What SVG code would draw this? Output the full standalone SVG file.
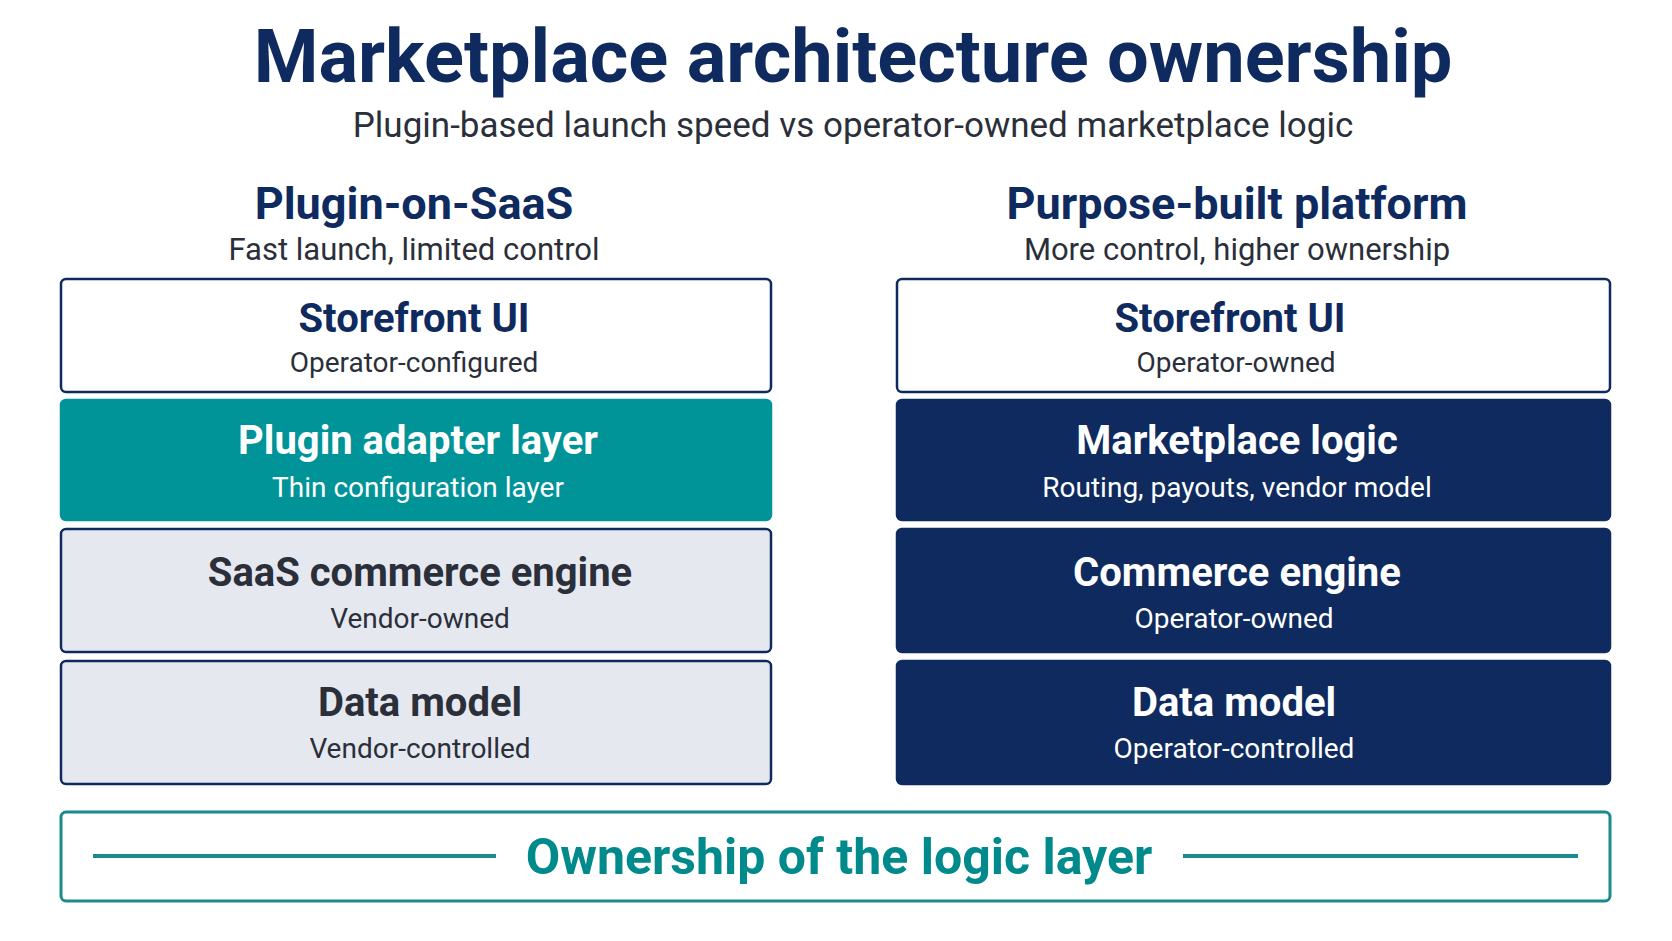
<svg xmlns="http://www.w3.org/2000/svg" width="1672" height="941" viewBox="0 0 1672 941">
<style>
text{font-family:Roboto,"Liberation Sans",sans-serif;text-anchor:middle}
.h{font-weight:700;font-size:40px}
.s{font-size:28px}
.hh{font-weight:700;font-size:45px}
.ss{font-size:31px}
.w{fill:#fff;stroke:#0e2a5e;stroke-width:2.5}
.t{fill:#009499;stroke:#009499;stroke-width:2.5}
.g{fill:#e6e8f0;stroke:#0e2a5e;stroke-width:2.5}
.n{fill:#0e2a5e;stroke:#0e2a5e;stroke-width:2.5}
.dk{fill:#2a2f3a}.nv{fill:#0e2a5e}.wt{fill:#fff}
</style>
<rect width="1672" height="941" fill="#fff"/>
<text x="853" y="82" font-size="74" font-weight="700" fill="#0e2a5e">Marketplace architecture ownership</text>
<text x="853" y="137" font-size="35" fill="#2a2f3a">Plugin-based launch speed vs operator-owned marketplace logic</text>
<g id="left-header"><text x="414" y="219" class="hh nv">Plugin-on-SaaS</text><text x="414" y="260" class="ss dk">Fast launch, limited control</text></g>
<g id="right-header"><text x="1237" y="219" class="hh nv">Purpose-built platform</text><text x="1237" y="260" class="ss dk">More control, higher ownership</text></g>
<g id="l1"><rect x="61" y="279" width="710" height="113" rx="5" class="w"/><text x="414" y="332" class="h nv">Storefront UI</text><text x="414" y="372" class="s dk">Operator-configured</text></g>
<g id="l2"><rect x="61" y="400" width="710" height="120" rx="5" class="t"/><text x="418" y="454" class="h wt">Plugin adapter layer</text><text x="418" y="497" class="s wt">Thin configuration layer</text></g>
<g id="l3"><rect x="61" y="529" width="710" height="123" rx="5" class="g"/><text x="420" y="586" class="h dk">SaaS commerce engine</text><text x="420" y="628" class="s dk">Vendor-owned</text></g>
<g id="l4"><rect x="61" y="661" width="710" height="123" rx="5" class="g"/><text x="420" y="716" class="h dk">Data model</text><text x="420" y="758" class="s dk">Vendor-controlled</text></g>
<g id="r1"><rect x="897" y="279" width="713" height="113" rx="5" class="w"/><text x="1230" y="332" class="h nv">Storefront UI</text><text x="1236" y="372" class="s dk">Operator-owned</text></g>
<g id="r2"><rect x="897" y="400" width="713" height="120" rx="5" class="n"/><text x="1237" y="454" class="h wt">Marketplace logic</text><text x="1237" y="497" class="s wt">Routing, payouts, vendor model</text></g>
<g id="r3"><rect x="897" y="529" width="713" height="123" rx="5" class="n"/><text x="1237" y="586" class="h wt">Commerce engine</text><text x="1234" y="628" class="s wt">Operator-owned</text></g>
<g id="r4"><rect x="897" y="661" width="713" height="123" rx="5" class="n"/><text x="1234" y="716" class="h wt">Data model</text><text x="1234" y="758" class="s wt">Operator-controlled</text></g>
<g id="bottom"><rect x="61" y="812" width="1549" height="89" rx="5" fill="#fff" stroke="#1a8a8c" stroke-width="3"/>
<line x1="93" y1="856" x2="496" y2="856" stroke="#1a8a8c" stroke-width="4"/><line x1="1183" y1="856" x2="1578" y2="856" stroke="#1a8a8c" stroke-width="4"/>
<text x="839" y="874" font-size="50" font-weight="700" fill="#008a8c">Ownership of the logic layer</text></g>
</svg>
